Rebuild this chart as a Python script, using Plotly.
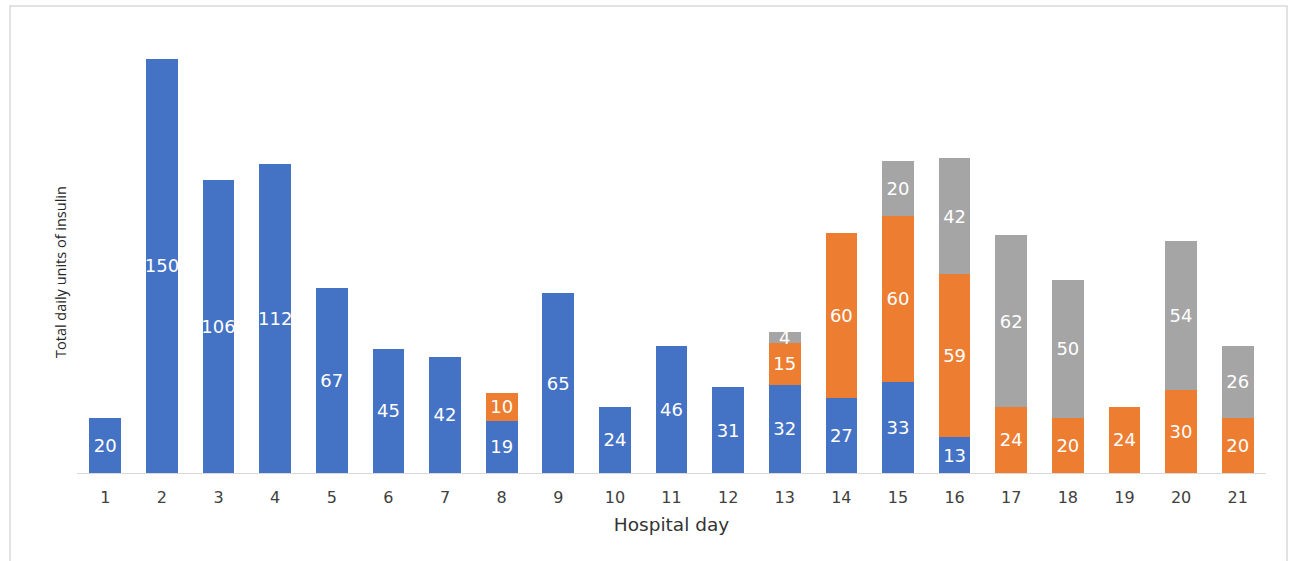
import plotly.graph_objects as go

days = [str(d) for d in range(1, 22)]
blue = [20, 150, 106, 112, 67, 45, 42, 19, 65, 24, 46, 31, 32, 27, 33, 13, None, None, None, None, None]
orange = [None, None, None, None, None, None, None, 10, None, None, None, None, 15, 60, 60, 59, 24, 20, 24, 30, 20]
gray = [None, None, None, None, None, None, None, None, None, None, None, None, 4, None, 20, 42, 62, 50, None, 54, 26]

series = [("Series 1", blue, "#4472C4"), ("Series 2", orange, "#ED7D31"), ("Series 3", gray, "#A5A5A5")]

fig = go.Figure()
for name, vals, col in series:
    fig.add_trace(go.Bar(
        x=days, y=vals, name=name, marker=dict(color=col, line=dict(width=0)),
        text=[("" if v is None else str(v)) for v in vals],
        textposition="inside", insidetextanchor="middle", textangle=0,
        textfont=dict(color="white", size=18, family="DejaVu Sans"),
        constraintext="none",
    ))

W, H = 1294, 561
ml, mr, mt, mb = 77, 28, 31, 88
pw, ph = W - ml - mr, H - mt - mb

fig.update_layout(
    width=W, height=H, barmode="stack", bargap=0.44,
    margin=dict(l=ml, r=mr, t=mt, b=mb),
    plot_bgcolor="white", paper_bgcolor="white", showlegend=False,
    font=dict(family="DejaVu Sans", color="#404040"),
    uniformtext=dict(mode="show", minsize=18),
    xaxis=dict(showline=True, linecolor="#d9d9d9", linewidth=1, ticks="", showgrid=False,
               tickfont=dict(size=16, color="#404040"), ticklabelstandoff=10,
               title=dict(text="Hospital day", font=dict(size=18.5, color="#333333"), standoff=11)),
    yaxis=dict(range=[0, 160], showticklabels=False, showgrid=False, zeroline=False, showline=False),
    shapes=[dict(type="rect", xref="paper", yref="paper",
                 x0=(10 - ml) / pw, x1=(1287 - ml) / pw,
                 y0=(mt + ph - 575) / ph, y1=(mt + ph - 6) / ph,
                 line=dict(color="#d9d9d9", width=1.5), fillcolor="rgba(0,0,0,0)", layer="below")],
    annotations=[dict(text="Total daily units of insulin", xref="paper", yref="paper",
                      x=(60 - ml) / pw, y=(mt + ph - 272) / ph, textangle=-90, showarrow=False,
                      xanchor="center", yanchor="middle",
                      font=dict(size=14.5, color="#262626", family="Open Sans"))],
)

fig.write_html("out.html")
